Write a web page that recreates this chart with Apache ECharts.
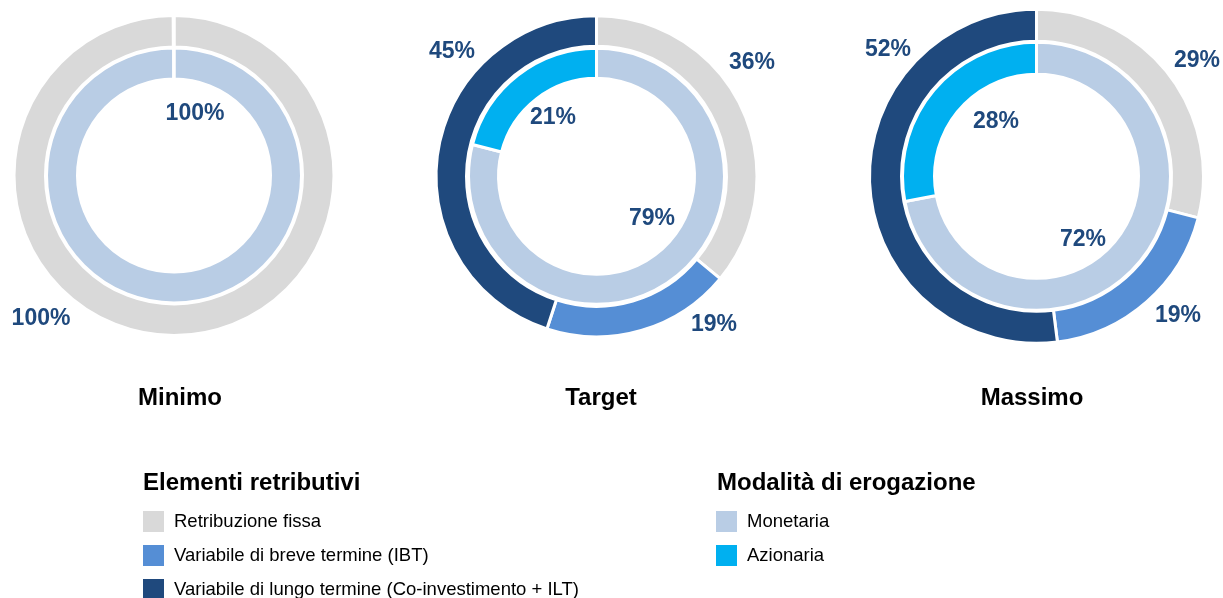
<!DOCTYPE html>
<html><head><meta charset="utf-8">
<script src="https://cdn.jsdelivr.net/npm/echarts@6/dist/echarts.min.js"></script>
<style>html,body{margin:0;padding:0;background:#fff}#c{width:1223px;height:598px}</style>
</head><body><div id="c"></div>
<script>
// ---- data ----
const scenarios = ['Minimo', 'Target', 'Massimo'];
const elementNames = ['Retribuzione fissa', 'Variabile di breve termine (IBT)', 'Variabile di lungo termine (Co-investimento + ILT)'];
const modeNames = ['Monetaria', 'Azionaria'];
const fissa = [100, 36, 29];
const ibt = [0, 19, 19];
const ilt = [0, 45, 52];
const monetaria = [100, 79, 72];
const azionaria = [0, 21, 28];
const legendTitles = ['Elementi retributivi', 'Modalità di erogazione'];

// ---- layout / style ----
const elementColors = ['#D9D9D9', '#558ED5', '#1F497D'];
const modeColors = ['#B9CDE5', '#00B0F0'];
const labelColor = '#1F497D';
const FONT = '"Liberation Sans", Arial, sans-serif';
const centers = [[174, 175.5], [596.5, 176.3], [1036.5, 176.3]];
const outerRadius = [[128.5, 160], [130, 160.5], [135, 167]];
const innerRadius = [[96.5, 127.5], [98, 128], [102, 134]];
const padAngles = [0.12, 0, 0];
const outerLabelOffsets = [
  [[-133, 143.5], [0, 0], [0, 0]],
  [[155.5, -113.3], [117.5, 148.7], [-144.5, -124.3]],
  [[160.5, -115.3], [141.5, 139.7], [-148.5, -126.3]]
];
const innerLabelOffsets = [
  [[21, -61.5], [0, 0]],
  [[55.5, 42.7], [-43.5, -58.3]],
  [[46.5, 63.7], [-40.5, -54.3]]
];
const titleX = [180, 601, 1032];

function makeSeries(name, names, values, colors, radius, center, offsets, pad) {
  return {
    type: 'pie',
    name: name,
    center: center,
    radius: radius,
    startAngle: 90,
    clockwise: true,
    padAngle: pad,
    avoidLabelOverlap: false,
    itemStyle: { borderColor: '#ffffff', borderWidth: 3 },
    label: {
      show: true,
      position: 'inside',
      formatter: p => (p.value > 0 ? p.value + '%' : ''),
      color: labelColor,
      fontFamily: FONT,
      fontWeight: 'bold',
      fontSize: 23
    },
    labelLine: { show: false },
    labelLayout: function (params) {
      const o = offsets[params.dataIndex];
      return { x: center[0] + o[0], y: center[1] + o[1], align: 'center', verticalAlign: 'middle' };
    },
    emphasis: { scale: false },
    data: names.map((n, i) => ({ name: n, value: values[i], itemStyle: { color: colors[i] } }))
  };
}

const series = [];
scenarios.forEach((s, i) => {
  series.push(makeSeries(s + ' elementi', elementNames, [fissa[i], ibt[i], ilt[i]], elementColors, outerRadius[i], centers[i], outerLabelOffsets[i], padAngles[i]));
  series.push(makeSeries(s + ' modalità', modeNames, [monetaria[i], azionaria[i]], modeColors, innerRadius[i], centers[i], innerLabelOffsets[i], padAngles[i]));
});

const graphics = scenarios.map((s, i) => ({
  type: 'text', x: titleX[i], y: 398,
  style: { text: s, font: 'bold 24px ' + FONT, fill: '#000', textAlign: 'center', textVerticalAlign: 'middle' }
}));
graphics.push({ type: 'text', x: 143, y: 483, style: { text: legendTitles[0], font: 'bold 24px ' + FONT, fill: '#000', textAlign: 'left', textVerticalAlign: 'middle' } });
graphics.push({ type: 'text', x: 717, y: 483, style: { text: legendTitles[1], font: 'bold 24px ' + FONT, fill: '#000', textAlign: 'left', textVerticalAlign: 'middle' } });

const legendCommon = {
  orient: 'vertical', icon: 'rect', itemWidth: 23, itemHeight: 23, itemGap: 9, padding: 0,
  height: 130,
  textStyle: { fontSize: 18.5, color: '#000', fontFamily: FONT, padding: [0, 0, 0, 4] }
};

const chart = echarts.init(document.getElementById('c'), null, { renderer: 'canvas' });
chart.setOption({
  animation: false,
  backgroundColor: '#ffffff',
  legend: [
    Object.assign({ data: elementNames, left: 141, top: 509 }, legendCommon),
    Object.assign({ data: modeNames, left: 714, top: 509 }, legendCommon)
  ],
  graphic: graphics,
  series: series
});
</script></body></html>
